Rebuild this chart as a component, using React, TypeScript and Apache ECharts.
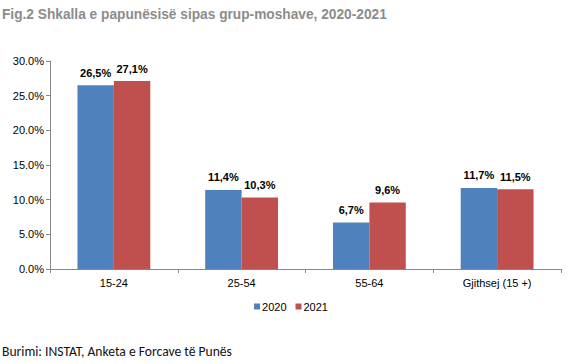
import React, { useEffect, useRef } from "react";
import * as echarts from "echarts";

const categories = ["15-24", "25-54", "55-64", "Gjithsej (15 +)"];
const values2020 = [26.5, 11.4, 6.7, 11.7];
const values2021 = [27.1, 10.3, 9.6, 11.5];
const seriesNames = ["2020", "2021"];
const titleText = "Fig.2 Shkalla e papunësisë sipas grup-moshave, 2020-2021";
const sourceText = "Burimi: INSTAT, Anketa e Forcave të Punës";

export default function App() {
  const ref = useRef<HTMLDivElement>(null);
  useEffect(() => {
    if (!ref.current) return;
    const chart = echarts.init(ref.current, undefined, { renderer: "svg" });
    const labelFmt = (p: any) => p.value.toFixed(1).replace(".", ",") + "%";
    chart.setOption({
      animation: false,
      backgroundColor: "#ffffff",
      graphic: [
        {
          type: "text",
          x: 2,
          y: 6,
          scaleX: 0.915,
          style: {
            text: titleText,
            fontFamily: "Liberation Sans, Arial",
            fontSize: 15,
            fontWeight: "bold",
            fill: "#8c8c8c",
          },
        },
        {
          type: "text",
          x: 2,
          y: 344,
          style: {
            text: sourceText,
            fontFamily: "Carlito, Calibri, Open Sans, Liberation Sans, sans-serif",
            fontSize: 13.6,
            fill: "#111",
          },
        },
      ],
      legend: {
        data: seriesNames,
        top: 296,
        left: "center",
        icon: "rect",
        itemWidth: 6,
        itemHeight: 6,
        itemGap: 9,
        textStyle: { fontFamily: "Liberation Sans, Arial", fontSize: 11, color: "#000", padding: [0, 0, 0, -3] },
      },
      grid: { left: 50, right: 21, top: 61, bottom: 95, containLabel: false },
      xAxis: {
        type: "category",
        data: categories,
        axisLine: { lineStyle: { color: "#888", width: 1 } },
        axisTick: { show: true, length: 4, lineStyle: { color: "#888" } },
        axisLabel: { fontFamily: "Liberation Sans, Arial", fontSize: 11, color: "#000", margin: 8 },
      },
      yAxis: {
        type: "value",
        min: 0,
        max: 30,
        interval: 5,
        axisLine: { show: true, lineStyle: { color: "#888", width: 1 } },
        axisTick: { show: true, length: 4, lineStyle: { color: "#888" } },
        splitLine: { show: false },
        axisLabel: {
          fontFamily: "Liberation Sans, Arial",
          fontSize: 11,
          color: "#000",
          margin: 6,
          formatter: (v: number) => v.toFixed(1) + "%",
        },
      },
      series: [
        {
          name: seriesNames[0],
          type: "bar",
          data: values2020,
          barGap: "0%",
          barCategoryGap: "43%",
          itemStyle: { color: "#4F81BD" },
          label: {
            show: true,
            position: "top",
            distance: 7,
            formatter: labelFmt,
            fontFamily: "Liberation Sans, Arial",
            fontSize: 11,
            fontWeight: "bold",
            color: "#000",
          },
        },
        {
          name: seriesNames[1],
          type: "bar",
          data: values2021,
          barGap: "0%",
          barCategoryGap: "43%",
          itemStyle: { color: "#C0504D" },
          label: {
            show: true,
            position: "top",
            distance: 7,
            formatter: labelFmt,
            fontFamily: "Liberation Sans, Arial",
            fontSize: 11,
            fontWeight: "bold",
            color: "#000",
          },
        },
      ],
    });
    return () => chart.dispose();
  }, []);
  return (
    <div
      ref={ref}
      style={{ position: "absolute", left: 0, top: 0, width: 582, height: 364 }}
    />
  );
}
